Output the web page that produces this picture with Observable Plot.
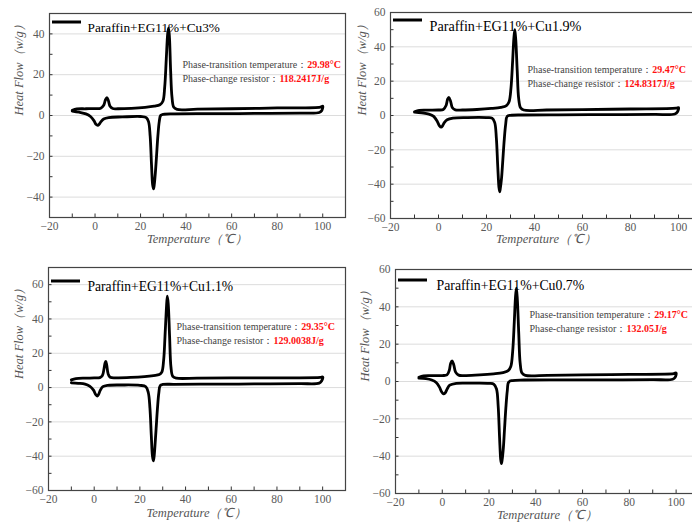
<!DOCTYPE html>
<html><head><meta charset="utf-8">
<script src="https://cdn.jsdelivr.net/npm/d3@7"></script>
<script src="https://cdn.jsdelivr.net/npm/@observablehq/plot@0.6"></script>
<style>
html,body{margin:0;padding:0;background:#fff;overflow:hidden;}
#wrap{position:relative;width:692px;height:523px;overflow:hidden;background:#fff;}
.panel{position:absolute;}
.panel svg{max-width:none !important;font-family:'Liberation Serif','Times New Roman',serif !important;}
.panel svg text{font-family:'Liberation Serif','Times New Roman',serif;}
</style></head><body><div id="wrap"></div>
<script>
// ---- Data (DSC loops: heating branch, turn at 100 °C, cooling branch) ----
const legends = ["Paraffin+EG11%+Cu3%", "Paraffin+EG11%+Cu1.9%", "Paraffin+EG11%+Cu1.1%", "Paraffin+EG11%+Cu0.7%"];
const transitionTemps = ["29.98°C", "29.47°C", "29.35°C", "29.17°C"];
const enthalpies = ["118.2417J/g", "124.8317J/g", "129.0038J/g", "132.05J/g"];
const xTicks = [-20, 0, 20, 40, 60, 80, 100];
const xMinorTicks = [-20, -10, 0, 10, 20, 30, 40, 50, 60, 70, 80, 90, 100];

const p1_temp = [-10, -8, -4, 0, 2.5, 3.8, 4.6, 5.2, 5.8, 6.6, 7.8, 10, 16, 22, 26, 28.5, 29.8, 30.6, 31.3, 31.9, 32.3, 32.7, 33.2, 33.8, 34.6, 36, 45, 60, 80, 99,
  100, 99.6,
  98.5, 90, 70, 50, 35, 30, 28.8, 28.2, 27.6, 27, 26.5, 26, 25.7, 25.3, 24.8, 24.2, 23.5, 22.5, 20, 12, 6, 3.8, 2.6, 1.8, 1.2, 0.4, -0.5, -2, -4, -7, -10];
const p1_flow = [2.5, 3.2, 3.3, 3.4, 3.6, 5, 7.8, 8.8, 7.5, 4.5, 3.4, 3.3, 3.5, 4.0, 4.6, 5.3, 7, 14, 28, 40, 43, 38, 22, 9, 4, 3, 3.1, 3.3, 3.7, 4.1,
  4.6, 2.5,
  1.5, 1.2, 1.0, 0.9, 0.8, 0.6, 0, -3, -10, -20, -28, -34, -36, -34, -24, -10, -3, -1, -0.5, -0.7, -1, -1.7, -3, -4.3, -4.8, -4.3, -2.5, -0.5, 0.8, 1.6, 2.2];

const p2_temp = [-10, -8, -4, 0, 2, 3.2, 3.8, 4.3, 5, 5.8, 7, 10, 16, 22, 26, 28.3, 29.4, 30.2, 30.9, 31.4, 31.8, 32.2, 32.8, 33.4, 34.2, 35.5, 45, 60, 80, 99,
  100, 99.6,
  98.5, 90, 70, 50, 35, 30, 28.6, 28, 27.4, 26.8, 26.3, 25.8, 25.5, 25.2, 24.7, 24.1, 23.4, 22.3, 20, 12, 6, 3.6, 2.5, 1.7, 1.1, 0.4, -0.5, -2, -4, -7, -10];
const p2_flow = [2.2, 3.0, 3.1, 3.2, 3.5, 6, 9.5, 10.5, 8.5, 4.5, 3.3, 3.2, 3.5, 4.1, 4.8, 5.8, 8, 16, 32, 45, 50, 44, 26, 10, 4.5, 3.2, 3.2, 3.4, 3.8, 4.3,
  4.6, 2.2,
  0.9, 0.6, 0.5, 0.4, 0.3, 0.1, -0.5, -5, -14, -26, -36, -42, -44.5, -42, -30, -13, -4, -1.5, -1.2, -1.2, -1.5, -2.5, -4, -6, -6.8, -6, -3.5, -0.5, 0.8, 1.5, 2.0];

const p3_temp = [-10, -8, -4, 0, 2.5, 3.6, 4.3, 4.8, 5.1, 5.5, 6.1, 7, 10, 16, 22, 26, 28.5, 29.6, 30.4, 31.0, 31.6, 32.0, 32.4, 33.0, 33.6, 34.4, 36, 45, 60, 80, 99,
  100, 99.6,
  98.5, 90, 70, 50, 35, 30, 28.9, 28.3, 27.7, 27.1, 26.6, 26.2, 25.9, 25.5, 25.0, 24.4, 23.7, 22.6, 20, 12, 6, 3.8, 2.7, 1.9, 1.3, 0.6, -0.3, -2, -4, -7, -10];
const p3_flow = [4.5, 5.2, 5.5, 5.6, 5.8, 7, 11, 14.5, 15.2, 13, 8, 6, 5.7, 5.9, 6.4, 7.0, 7.6, 9, 16, 30, 46, 53.3, 49, 30, 12, 6.5, 5.5, 5.5, 5.6, 5.7, 5.9,
  6.2, 4,
  2.6, 2.3, 2.1, 2.0, 1.9, 1.8, 1.2, -3, -12, -24, -34, -40.5, -42.7, -40, -28, -12, -3, 0.5, 1.3, 1.5, 1.3, 0.5, -1.5, -4, -4.9, -4, -1.5, 0.8, 2, 2.5, 2.8];

const p4_temp = [-10, -8, -4, 0, 2, 3, 3.6, 4.2, 4.9, 5.7, 7, 10, 16, 22, 26, 28.2, 29.3, 30.1, 30.8, 31.3, 31.7, 32.1, 32.7, 33.3, 34.1, 35.5, 45, 60, 80, 99,
  100, 99.6,
  98.5, 90, 70, 50, 35, 30, 28.4, 27.8, 27.2, 26.6, 26.1, 25.6, 25.3, 25.0, 24.5, 23.9, 23.2, 22.1, 20, 12, 6, 3.2, 2.1, 1.3, 0.5, -0.3, -1.2, -2.6, -4.5, -7, -10];
const p4_flow = [2.3, 3.0, 3.1, 3.2, 3.5, 6, 9.8, 11, 9, 5, 3.4, 3.2, 3.5, 4.1, 4.8, 5.8, 8, 16, 32, 45, 50, 44, 26, 10, 4.5, 3.3, 3.3, 3.5, 3.8, 4.2,
  4.6, 2.3,
  1.2, 1.0, 0.9, 0.9, 0.8, 0.5, -0.3, -5, -14, -26, -36, -42, -44, -42, -30, -13, -4, -1.5, -1.0, -0.9, -1.0, -2, -4, -6, -6.6, -5.5, -3, -0.5, 0.8, 1.5, 1.8];

const temps = [p1_temp, p2_temp, p3_temp, p4_temp];
const flows = [p1_flow, p2_flow, p3_flow, p4_flow];
const yDomains = [[-50, 50], [-60, 60], [-60, 70], [-60, 60]];
const yTicks = [[-40, -20, 0, 20, 40], [-60, -40, -20, 0, 20, 40, 60], [-60, -40, -20, 0, 20, 40, 60], [-60, -40, -20, 0, 20, 40, 60]];
const yMinorTicks = [d3.range(-50, 51, 10), d3.range(-60, 61, 10), d3.range(-60, 71, 10), d3.range(-60, 61, 10)];

// ---- Layout (pixels) ----
const layout = [
  {left: 0,   top: 0,   ml: 49, mt: 13, w: 296, h: 204, mb: 35, xt: 25, yt: -31, legY: 9,  legX: 38, legFont: 13.3, annX: 133, annY: 47},
  {left: 346, top: 0,   ml: 44, mt: 12, w: 312, h: 206, mb: 34, xt: 24, yt: -29, legY: 8,  legX: 39, legFont: 14.2, annX: 137, annY: 53},
  {left: 0,   top: 258, ml: 48, mt: 9,  w: 297, h: 223, mb: 32, xt: 26, yt: -30, legY: 14, legX: 39, legFont: 13.6, annX: 128, annY: 55},
  {left: 346, top: 258, ml: 49, mt: 11, w: 304, h: 224, mb: 30, xt: 25, yt: -31, legY: 11, legX: 41, legFont: 13.8, annX: 134, annY: 41}
];

const wrap = document.getElementById("wrap");
const serif = "'Liberation Serif', 'Times New Roman', serif";

for (let i = 0; i < 4; i++) {
  const L = layout[i];
  const data = temps[i].map((t, j) => ({t, f: flows[i][j]}));
  const plot = Plot.plot({
    width: L.ml + L.w + 1,
    height: L.mt + L.h + L.mb,
    marginLeft: L.ml, marginTop: L.mt, marginRight: 1, marginBottom: L.mb,
    style: `font-family: ${serif}; font-size: 11.5px; color: #555; background: transparent; overflow: visible; max-width: none;`,
    x: {domain: [-20, 110], label: null},
    y: {domain: yDomains[i], label: null},
    marks: [
      Plot.gridY(yTicks[i], {stroke: "#dcdcdc", strokeOpacity: 1, strokeWidth: 1}),
      Plot.axisX({ticks: xTicks, tickSize: 0, tickPadding: 4, label: null, fill: "#5a5a5a", fontSize: 11.5}),
      Plot.axisX({ticks: xMinorTicks, tickSize: 3.5, dy: -3.5, tickFormat: () => "", label: null, stroke: "#333"}),
      Plot.axisY({ticks: yTicks[i], tickSize: 0, tickPadding: 5, label: null, fill: "#5a5a5a", fontSize: 11.5}),
      Plot.axisY({ticks: yMinorTicks[i], tickSize: 3.5, dx: 3.5, tickFormat: () => "", label: null, stroke: "#333"}),
      Plot.frame({stroke: "#444", strokeWidth: 1.2}),
      Plot.line(data, {x: "t", y: "f", stroke: "#000", strokeWidth: 2.8, curve: "catmull-rom"}),
      Plot.text(["Temperature（℃）"], {text: d => d, frameAnchor: "bottom", dy: L.xt, fontStyle: "italic", fontSize: 12.5, fill: "#555", fontFamily: serif}),
      Plot.text(["Heat Flow（w/g）"], {text: d => d, frameAnchor: "left", rotate: -90, dx: L.yt, fontStyle: "italic", fontSize: 12.5, fill: "#555", fontFamily: serif}),
      Plot.text([legends[i]], {text: d => d, frameAnchor: "top-left", textAnchor: "start", dx: L.legX, dy: L.legY, fontSize: L.legFont, fill: "#000", fontFamily: serif}),
      Plot.text(["Phase-transition temperature："], {text: d => d, frameAnchor: "top-left", textAnchor: "start", dx: L.annX, dy: L.annY, fontSize: 10, fill: "#444", fontFamily: serif}),
      Plot.text(["Phase-change resistor："], {text: d => d, frameAnchor: "top-left", textAnchor: "start", dx: L.annX, dy: L.annY + 14, fontSize: 10, fill: "#444", fontFamily: serif})
    ]
  });
  const svg = d3.select(plot);
  svg.style("max-width", "none");
  // legend sample line
  svg.append("line")
    .attr("x1", L.ml + 3).attr("x2", L.ml + 32)
    .attr("y1", L.mt + L.legY).attr("y2", L.mt + L.legY)
    .attr("stroke", "#000").attr("stroke-width", 3);
  // red bold values after annotation labels
  svg.selectAll("text").each(function () {
    const s = this.textContent;
    if (s === "Phase-transition temperature：") {
      d3.select(this).append("tspan").attr("fill", "#ff1010").attr("font-weight", "bold").text(transitionTemps[i]);
    } else if (s === "Phase-change resistor：") {
      d3.select(this).append("tspan").attr("fill", "#ff1010").attr("font-weight", "bold").text(enthalpies[i]);
    }
  });
  const div = document.createElement("div");
  div.className = "panel";
  div.style.left = L.left + "px";
  div.style.top = L.top + "px";
  div.appendChild(plot);
  wrap.appendChild(div);
}
</script>
</body></html>
